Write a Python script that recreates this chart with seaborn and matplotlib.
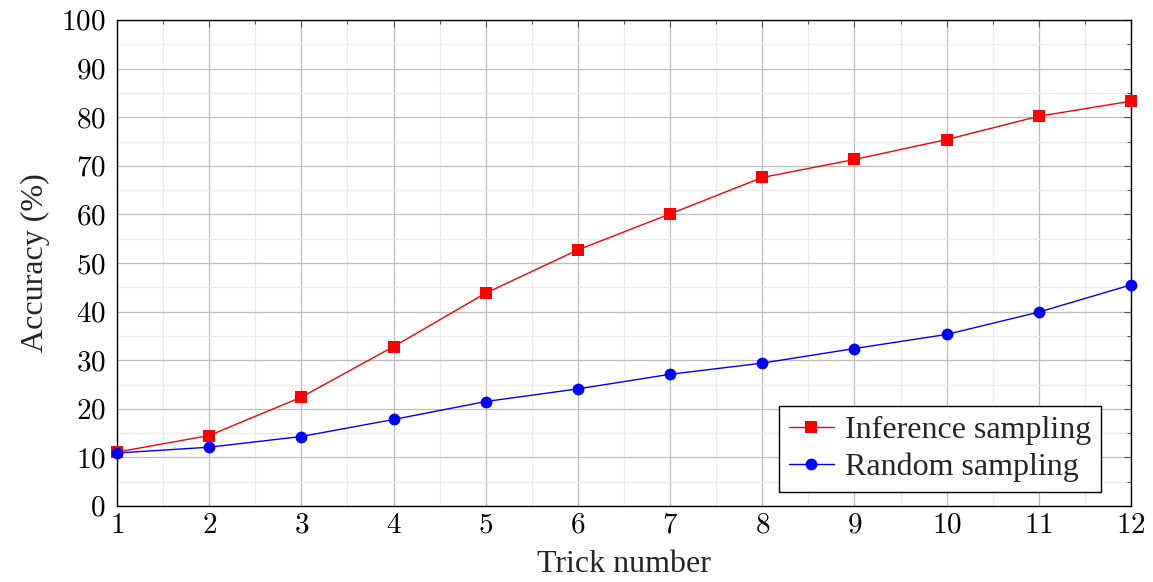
import numpy as np
import pandas as pd
import seaborn as sns
import matplotlib
matplotlib.use("Agg")
import matplotlib.pyplot as plt
from matplotlib.ticker import MultipleLocator, FuncFormatter

tricks = [1, 2, 3, 4, 5, 6, 7, 8, 9, 10, 11, 12]
inference = [11.1, 14.5, 22.4, 32.8, 43.8, 52.7, 60.1, 67.6, 71.3, 75.4, 80.2, 83.3]
random_s = [10.9, 12.1, 14.3, 17.8, 21.5, 24.1, 27.1, 29.4, 32.4, 35.3, 39.9, 45.5]
series_names = ["Inference sampling", "Random sampling"]

df = pd.DataFrame({
    "Trick": tricks * 2,
    "Accuracy": inference + random_s,
    "Method": [series_names[0]] * len(tricks) + [series_names[1]] * len(tricks),
})

sns.set_theme(style="white")
plt.rcParams["font.family"] = ["Liberation Serif", "DejaVu Serif"]
plt.rcParams["mathtext.fontset"] = "cm"

fig = plt.figure(figsize=(11.53, 5.82), dpi=100)
ax = fig.add_axes([117 / 1153, 76 / 582, 1014 / 1153, 486 / 582])

sns.lineplot(data=df, x="Trick", y="Accuracy", hue="Method", style="Method",
             markers={series_names[0]: "s", series_names[1]: "o"}, dashes=False,
             palette={series_names[0]: "#ff0000", series_names[1]: "#0000ff"},
             linewidth=1.0, markersize=8.5, markeredgewidth=0, ax=ax, zorder=3,
             clip_on=False)

ax.set_xlim(1, 12)
ax.set_ylim(0, 100)
ax.xaxis.set_major_locator(MultipleLocator(1))
ax.xaxis.set_minor_locator(MultipleLocator(0.5))
ax.yaxis.set_major_locator(MultipleLocator(10))
ax.yaxis.set_minor_locator(MultipleLocator(5))
fmt = FuncFormatter(lambda v, p: r"$%d$" % int(round(v)))
ax.xaxis.set_major_formatter(fmt)
ax.yaxis.set_major_formatter(fmt)

ax.grid(which="major", color="#bdbdbd", linewidth=0.9, zorder=0)
ax.grid(which="minor", color="#ebebeb", linewidth=0.9, zorder=0)
ax.set_axisbelow(True)

ax.tick_params(which="both", direction="in", top=True, right=True,
               colors="#555555", labelcolor="black", labelsize=21)
ax.tick_params(axis="y", which="major", length=5, width=0.8, pad=8)
ax.tick_params(axis="x", which="major", length=5, width=0.8, pad=5)
ax.tick_params(which="minor", length=3, width=0.8)
for s in ax.spines.values():
    s.set_visible(True)
    s.set_color("black")
    s.set_linewidth(1.0)

ax.set_xlabel("Trick number", fontsize=23, labelpad=8)
ax.set_ylabel("Accuracy (%)", fontsize=23, labelpad=8)

leg = ax.legend(loc="lower right", bbox_to_anchor=(0.970, 0.029), fontsize=23,
                frameon=True, fancybox=False, framealpha=1, edgecolor="black",
                handlelength=1.4, handletextpad=0.35, borderpad=0.3, labelspacing=0.25,
                borderaxespad=0, title=None)
leg.get_frame().set_linewidth(1.0)

fig.savefig("out.png", dpi=100)
